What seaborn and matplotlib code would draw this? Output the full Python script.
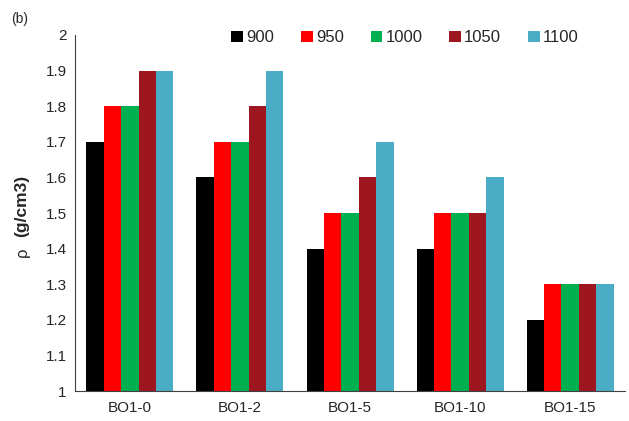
import pandas as pd
import seaborn as sns
import matplotlib.pyplot as plt

# data
samples = ['BO1-0', 'BO1-2', 'BO1-5', 'BO1-10', 'BO1-15']
temps = ['900', '950', '1000', '1050', '1100']
rho_900 = [1.7, 1.6, 1.4, 1.4, 1.2]
rho_950 = [1.8, 1.7, 1.5, 1.5, 1.3]
rho_1000 = [1.8, 1.7, 1.5, 1.5, 1.3]
rho_1050 = [1.9, 1.8, 1.6, 1.5, 1.3]
rho_1100 = [1.9, 1.9, 1.7, 1.6, 1.3]
colors = ['#000000', '#FF0000', '#00B050', '#9E1620', '#4BACC6']

df = pd.DataFrame({'sample': samples, '900': rho_900, '950': rho_950,
                   '1000': rho_1000, '1050': rho_1050, '1100': rho_1100})
df = df.melt(id_vars='sample', var_name='T', value_name='rho')

sns.set_style('white')
plt.rcParams['font.family'] = ['Liberation Sans', 'DejaVu Sans']

fig = plt.figure(figsize=(6.29, 4.21), dpi=100)
ax = fig.add_axes([0.119, 0.071, 0.875, 0.846])

sns.barplot(data=df, x='sample', y='rho', hue='T', hue_order=temps,
            palette=colors, width=0.79, saturation=1, linewidth=0, ax=ax)

ax.set_ylim(1, 2)
ax.set_yticks([1 + i / 10 for i in range(11)])
ax.set_yticklabels(['1', '1.1', '1.2', '1.3', '1.4', '1.5', '1.6', '1.7', '1.8', '1.9', '2'])
ax.tick_params(axis='both', length=0, labelsize=11, pad=6)
ax.tick_params(axis='x', pad=7)
ax.set_xlabel('')
ax.set_ylabel('')
for s in ['top', 'right']:
    ax.spines[s].set_visible(False)
ax.spines['left'].set_color('#404040')
ax.spines['bottom'].set_color('#404040')

# y label: plain rho + bold unit
fig.text(0.035, 0.401, 'ρ', fontsize=12, rotation=90, ha='center', va='center')
fig.text(0.035, 0.512, '(g/cm3)', fontsize=12.5, fontweight='bold', rotation=90,
         ha='center', va='center')

ax.legend(ncol=5, loc='upper center', bbox_to_anchor=(0.6, 1.055), frameon=False,
          fontsize=12, handlelength=0.7, handleheight=0.7, handletextpad=0.2,
          columnspacing=1.6)

fig.text(0.018, 0.945, '(b)', fontsize=10)

plt.savefig('out.png', dpi=100)
